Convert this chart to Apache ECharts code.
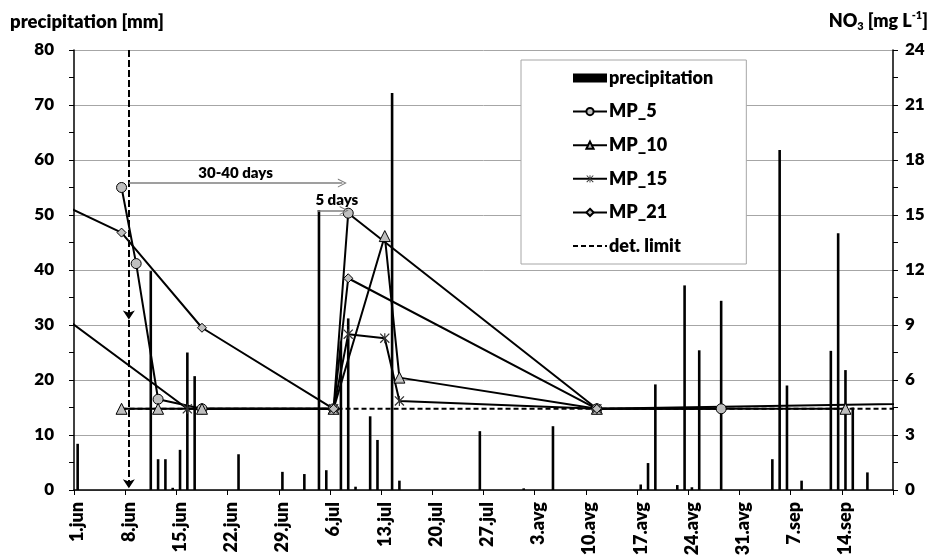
<!DOCTYPE html>
<html><head><meta charset="utf-8">
<script src="https://cdn.jsdelivr.net/npm/echarts@6/dist/echarts.min.js"></script>
<style>html,body{margin:0;padding:0;background:#fff}#c{width:935px;height:555px}</style>
</head><body><div id="c"></div>
<script>
// ---- data ----
const tickLabels = ['1.jun','8.jun','15.jun','22.jun','29.jun','6.jul','13.jul','20.jul','27.jul','3.avg','10.avg','17.avg','24.avg','31.avg','7.sep','14.sep'];
const precipDates = ['06-01','06-11','06-12','06-13','06-14','06-15','06-16','06-17','06-23','06-29','07-02','07-04','07-05','07-07','07-08','07-09','07-11','07-12','07-14','07-15','07-26','08-01','08-05','08-17','08-18','08-19','08-22','08-23','08-24','08-25','08-28','09-04','09-05','09-06','09-08','09-12','09-13','09-14','09-15','09-17'];
const precipValues = [8.4,39.8,5.6,5.6,0.4,7.3,25.0,20.7,6.5,3.3,2.9,50.9,3.6,27.0,31.2,0.6,13.4,9.1,72.2,1.7,10.7,0.3,11.6,1.0,4.9,19.2,0.9,37.2,0.5,25.4,34.4,5.6,61.8,19.0,1.7,25.3,46.7,21.8,15.0,3.2];
const mp5Dates = ['06-07','06-09','06-12','06-18','07-06','07-08','08-11','08-28'];
const mp5Values = [16.5,12.35,4.95,4.43,4.43,15.1,4.43,4.43];
const mp10Dates = ['06-07','06-12','06-18','07-06','07-13','07-15','08-11','09-14'];
const mp10Values = [4.43,4.43,4.43,4.43,13.85,6.13,4.43,4.43];
const mp15Dates = ['05-15','06-16','07-06','07-08','07-13','07-15','08-11'];
const mp15Values = [13.9,4.43,4.43,8.5,8.28,4.86,4.43];
const mp21Dates = ['05-15','06-07','06-18','07-06','07-08','08-11','10-15'];
const mp21Values = [18.4,14.04,8.85,4.43,11.55,4.43,4.85];
const detDates = ['06-07','10-15'];
const detValue = 4.43;
const totalDays = 112;

// ---- helpers ----
function dayPos(s){ const p=s.split('-').map(Number); return (Date.UTC(2021,p[0]-1,p[1])-Date.UTC(2021,5,1))/864e5 + 0.5; }
function pairs(dates, vals){ return dates.map((d,i)=>[dayPos(d), vals[i]]); }
const cats = [];
for (let i=0;i<totalDays;i++) cats.push(i%7===0 ? tickLabels[i/7] : '');

const FONT = 'Lato, "Open Sans", sans-serif';
const W = 800;
const GRAY = '#bfbfbf';
const ASTER = 'path://M4.4,0h1.2v10h-1.2z M0,0.9 L0.9,0 L10,9.1 L9.1,10 Z M9.1,0 L10,0.9 L0.9,10 L0,9.1 Z';
const CHEV = 'path://M0,10 L5,0 L10,10 L8.7,10 L5,2.6 L1.3,10 Z';

const lineBase = (name, data, symbol, size, extra) => Object.assign({
  name, type:'line', xAxisIndex:1, yAxisIndex:1, data, symbol, symbolSize:size,
  showAllSymbol:true, clip:true, z:3,
  lineStyle:{color:'#000', width:2},
  itemStyle:{color:GRAY, borderColor:'#000', borderWidth:1}
}, extra||{});

const chart = echarts.init(document.getElementById('c'), null, {renderer:'canvas'});
chart.setOption({
  animation:false,
  backgroundColor:'#fff',
  grid:{left:74, right:42, top:50, bottom:65, containLabel:false, outerBoundsMode:'none'},
  graphic:[
    {type:'text', left:10, top:13, style:{text:'precipitation [mm]', font:W+' 18.5px '+FONT, fill:'#000'}},
    {type:'text', right:7, top:10, style:{
      text:'{a|NO}{s|3}{a| [mg L}{p|-1}{a|]}',
      rich:{
        a:{fontFamily:FONT, fontWeight:W, fontSize:18, color:'#000', lineHeight:22},
        s:{fontFamily:FONT, fontWeight:W, fontSize:11, color:'#000', verticalAlign:'bottom', lineHeight:22},
        p:{fontFamily:FONT, fontWeight:W, fontSize:11, color:'#000', verticalAlign:'top', lineHeight:22}
      }}}
  ],
  legend:{
    orient:'vertical', left:521, top:60, itemWidth:34, itemHeight:9, itemGap:15.6,
    padding:[9,33,9,51], backgroundColor:'#fff', borderColor:'#a6a6a6', borderWidth:1,
    lineStyle:{width:2},
    textStyle:{fontFamily:FONT, fontWeight:W, fontSize:18, color:'#000', lineHeight:16, padding:[0,0,0,-3]},
    data:[{name:'precipitation', icon:'rect'},'MP_5','MP_10','MP_15','MP_21',
          {name:'det. limit', itemStyle:{color:'rgba(0,0,0,0)', borderWidth:0, opacity:0}}]
  },
  xAxis:[
    {type:'category', data:cats, boundaryGap:true, position:'bottom',
     axisLine:{show:true, lineStyle:{color:'#000', width:1.5}},
     axisTick:{show:true, interval:(i)=>i%7===0, length:5, lineStyle:{color:'#000', width:1}},
     axisLabel:{interval:0, rotate:90, margin:12, fontFamily:FONT, fontWeight:W, fontSize:18, color:'#000'},
     splitLine:{show:false}},
    {type:'value', min:0, max:totalDays, show:false, splitLine:{show:false}}
  ],
  yAxis:[
    {type:'value', min:0, max:80, interval:10, position:'left',
     axisLine:{show:true, lineStyle:{color:'#000', width:1.5}},
     axisTick:{show:true, length:5, lineStyle:{color:'#000'}},
     minorTick:{show:true, splitNumber:2, length:5, lineStyle:{color:'#000'}},
     axisLabel:{margin:20, fontFamily:FONT, fontWeight:W, fontSize:17, color:'#000'},
     splitLine:{show:true, lineStyle:{color:'#a6a6a6', width:1}}},
    {type:'value', min:0, max:24, interval:3, position:'right',
     axisLine:{show:true, lineStyle:{color:'#000', width:1.5}},
     axisTick:{show:true, length:5, lineStyle:{color:'#000'}},
     minorTick:{show:true, splitNumber:2, length:5, lineStyle:{color:'#000'}},
     axisLabel:{margin:12, fontFamily:FONT, fontWeight:W, fontSize:17, color:'#000'},
     splitLine:{show:false}}
  ],
  series:[
    {name:'precipitation', type:'bar', xAxisIndex:1, yAxisIndex:0, barWidth:2.6, clip:true, z:2,
     itemStyle:{color:'#000'},
     data:pairs(precipDates, precipValues),
     markLine:{silent:true, symbol:['none','arrow'], symbolSize:9, animation:false,
       lineStyle:{color:'#000', type:[7,3], width:2},
       label:{show:false},
       data:[
         [{coord:[dayPos('06-08'),80]},{coord:[dayPos('06-08'),0.3]}],
         [{coord:[dayPos('06-08'),80]},{coord:[dayPos('06-08'),31]}],
         [{coord:[dayPos('06-08'),55.8], symbol:'none', lineStyle:{color:'#7f7f7f', type:'solid', width:1.5},
           label:{show:true, position:'middle', formatter:'30-40 days', distance:2, fontFamily:FONT, fontWeight:W, fontSize:15, color:'#000'}},
          {coord:[36.7,55.8], symbol:CHEV, symbolSize:[9,9]}],
         [{coord:[33.3,50.8], symbol:'none', lineStyle:{color:'#7f7f7f', type:'solid', width:1.5},
           label:{show:true, position:'middle', formatter:'5 days', distance:3, offset:[6,0], fontFamily:FONT, fontWeight:W, fontSize:15, color:'#000'}},
          {coord:[36.95,50.8], symbol:CHEV, symbolSize:[9,9]}]
       ]}
    },
    lineBase('MP_5', pairs(mp5Dates, mp5Values), 'circle', 10),
    lineBase('MP_10', pairs(mp10Dates, mp10Values), 'triangle', 11),
    lineBase('MP_15', pairs(mp15Dates, mp15Values), ASTER, 10, {itemStyle:{color:'#333'}, lineStyle:{color:'#000', width:2}}),
    lineBase('MP_21', pairs(mp21Dates, mp21Values), 'diamond', 9),
    {name:'det. limit', type:'line', xAxisIndex:1, yAxisIndex:1, data:pairs(detDates,[detValue,detValue]),
     symbol:'none', clip:true, z:3, lineStyle:{color:'#000', width:2, type:[5,3]}, itemStyle:{color:'#000'}}
  ]
});
</script></body></html>
